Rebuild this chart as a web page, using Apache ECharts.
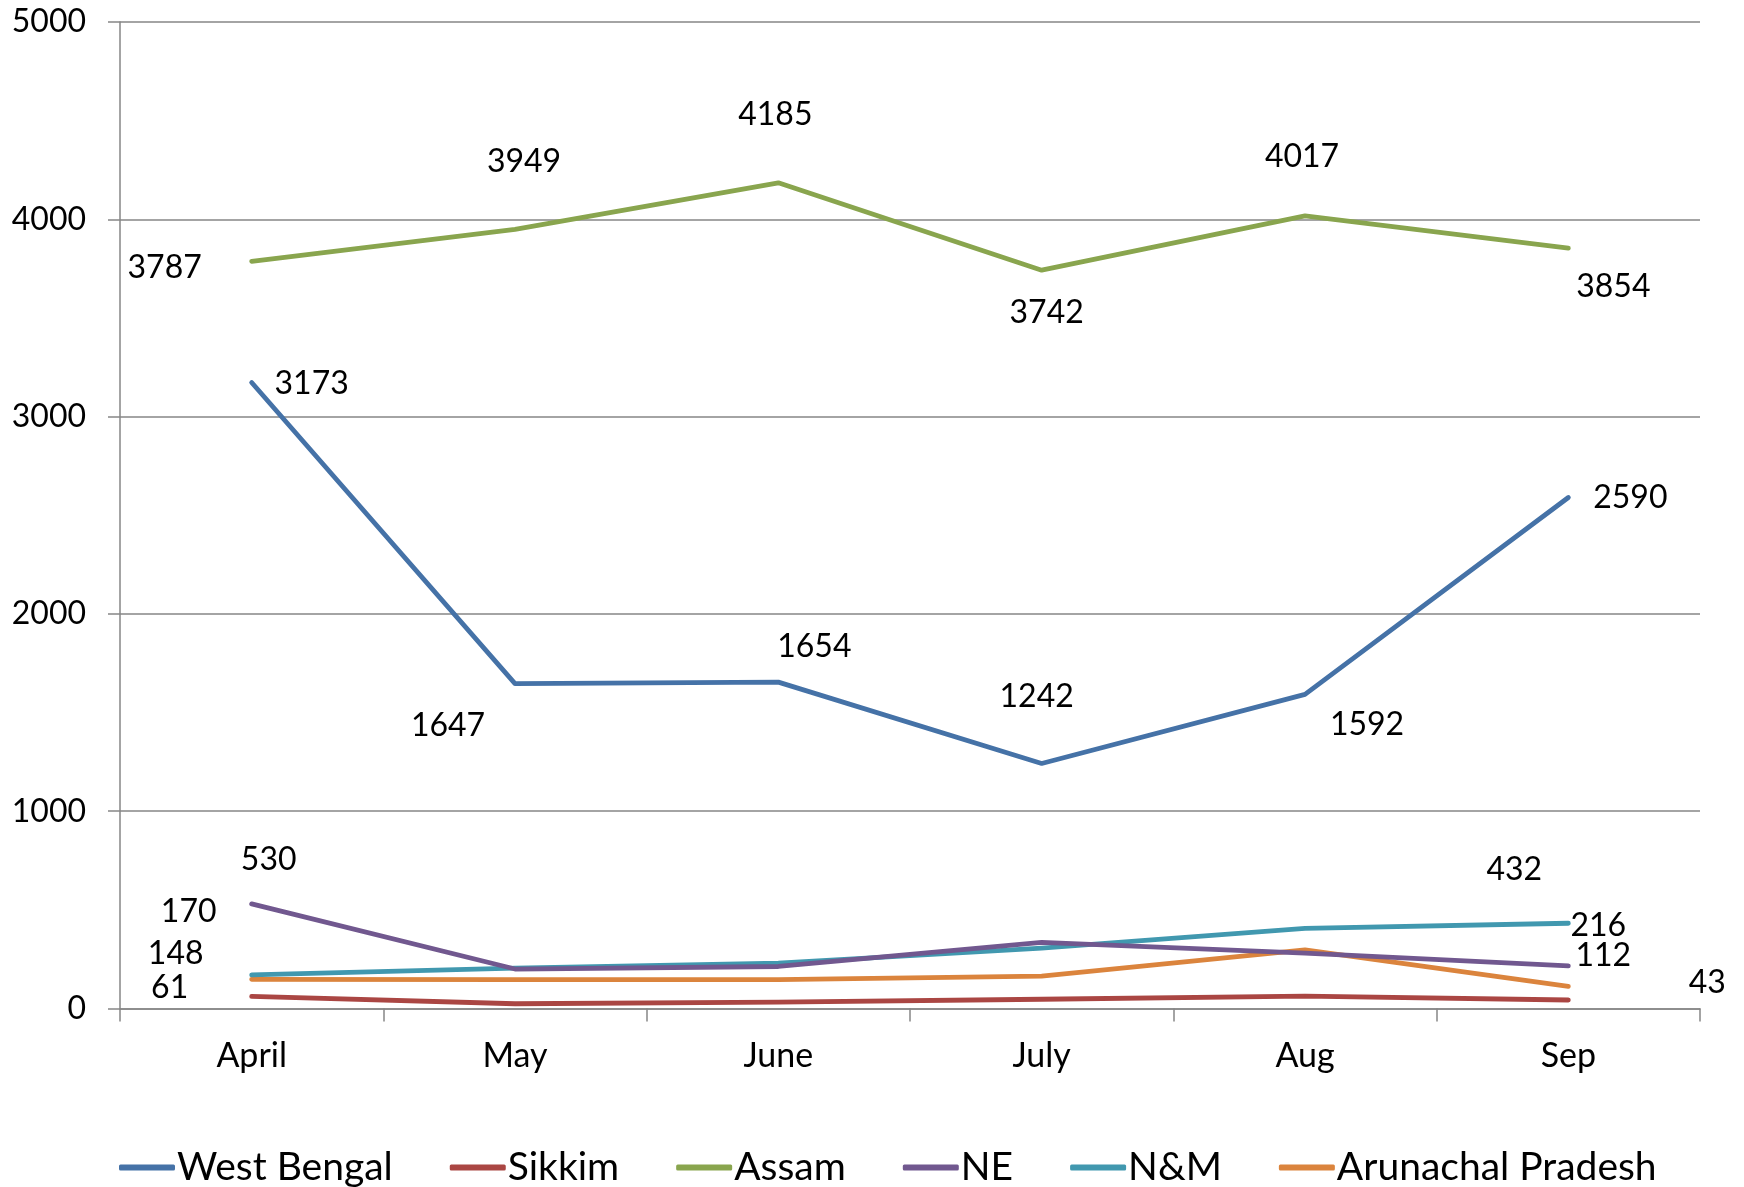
<!DOCTYPE html>
<html>
<head>
<meta charset="utf-8">
<script src="https://cdn.jsdelivr.net/npm/echarts@6/dist/echarts.min.js"></script>
<style>
html,body{margin:0;padding:0;background:#fff;}
#chart{width:1744px;height:1187px;}
</style>
</head>
<body>
<div id="chart"></div>
<script>
var months = ['April', 'May', 'June', 'July', 'Aug', 'Sep'];
var seriesNames = ['West Bengal', 'Sikkim', 'Assam', 'NE', 'N&M', 'Arunachal Pradesh'];
var westBengal = [3173, 1647, 1654, 1242, 1592, 2590];
var sikkim = [61, 24, 32, 47, 63, 43];
var assam = [3787, 3949, 4185, 3742, 4017, 3854];
var ne = [530, 200, 213, 335, 281, 216];
var nm = [170, 205, 230, 306, 406, 432];
var arunachal = [148, 146, 146, 164, 297, 112];
var yTicks = [0, 1000, 2000, 3000, 4000, 5000];

var colors = ['#4572A7', '#AA4643', '#89A54E', '#71588F', '#4198AF', '#DB843D'];
var values = [westBengal, sikkim, assam, ne, nm, arunachal];

// label placement (offsets from each point, in px); null = no label
var labelOffsets = [
  [[60, 1], [-67, 42], [36, -35], [-5, -67], [62, 30], [62, 0]],
  [[-82, -9], null, null, null, null, [139, -17]],
  [[-87, 6], [9, -68], [-3, -68], [5, 42], [-3, -59], [45, 39]],
  [[17, -44], null, null, null, null, [30, -40]],
  [[-63, -63], null, null, null, null, [-54, -54]],
  [[-76, -26], null, null, null, null, [35, -31]]
];

var FONT = 'Lato';

var series = seriesNames.map(function (name, si) {
  return {
    name: name,
    type: 'line',
    symbol: 'circle',
    symbolSize: 1,
    showSymbol: true,
    itemStyle: { color: colors[si] },
    lineStyle: { color: colors[si], width: 4.8, cap: 'round', join: 'round' },
    emphasis: { disabled: true },
    z: 10 - si,
    data: values[si].map(function (v, i) {
      var off = labelOffsets[si][i];
      return {
        value: v,
        label: off ? {
          show: true,
          position: 'inside',
          offset: off,
          align: 'center',
          verticalAlign: 'middle',
          color: '#000',
          fontFamily: FONT,
          fontSize: 32
        } : { show: false }
      };
    })
  };
});

var chart = echarts.init(document.getElementById('chart'));
chart.setOption({
  animation: false,
  backgroundColor: '#fff',
  grid: { left: 120, right: 44, top: 22, bottom: 178.5, containLabel: false },
  legend: {
    left: 114,
    top: 1143,
    itemWidth: 56,
    itemHeight: 6,
    itemGap: 57,
    icon: 'roundRect',
    textStyle: { fontFamily: FONT, fontSize: 39, color: '#000', padding: [0, 0, 0, -3] },
    data: seriesNames.map(function (n, i) { return { name: n, itemStyle: { color: colors[i] } }; })
  },
  xAxis: {
    type: 'category',
    data: months,
    boundaryGap: true,
    axisLine: { show: true, lineStyle: { color: '#868686', width: 1.5 } },
    axisTick: { show: true, interval: 0, length: 13, lineStyle: { color: '#868686', width: 1.5 } },
    axisLabel: { margin: 31, color: '#000', fontFamily: FONT, fontSize: 34, interval: 0 },
    splitLine: { show: false }
  },
  yAxis: {
    type: 'value',
    min: yTicks[0],
    max: yTicks[yTicks.length - 1],
    interval: yTicks[1] - yTicks[0],
    axisLine: { show: true, lineStyle: { color: '#868686', width: 1.5 } },
    axisTick: { show: true, length: 12, lineStyle: { color: '#868686', width: 1.5 } },
    axisLabel: { margin: 34, color: '#000', fontFamily: FONT, fontSize: 32, formatter: function (v) { return String(v); } },
    splitLine: { show: true, lineStyle: { color: '#868686', width: 1.5 } }
  },
  series: series
});
</script>
</body>
</html>
